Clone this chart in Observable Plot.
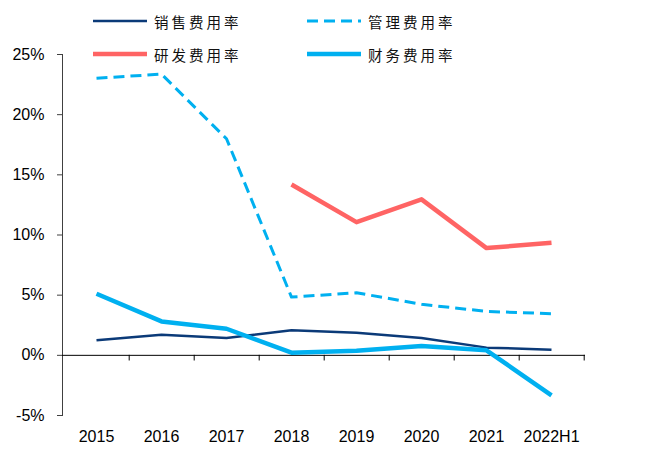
<!DOCTYPE html>
<html>
<head>
<meta charset="utf-8">
<script src="https://cdn.jsdelivr.net/npm/d3@7"></script>
<script src="https://cdn.jsdelivr.net/npm/@observablehq/plot@0.6"></script>
<style>
  body { margin: 0; background: #fff; }
  #wrap { position: relative; width: 655px; height: 451px; }
  #legend { position: absolute; left: 0; top: 0; width: 655px; height: 70px; pointer-events: none; }
  .lg { position: absolute; display: flex; align-items: center; font-family: "Noto Sans CJK SC", sans-serif; font-size: 14.5px; letter-spacing: 3px; color: #111; }
  .lg svg { margin-right: 7px; }
</style>
</head>
<body>
<div id="wrap"><div id="legend"></div></div>
<script>
const years = ["2015", "2016", "2017", "2018", "2019", "2020", "2021", "2022H1"];
const seriesNames = ["销售费用率", "管理费用率", "研发费用率", "财务费用率"];
const sales = [1.25, 1.72, 1.44, 2.08, 1.88, 1.44, 0.64, 0.47];
const admin = [23.03, 23.37, 18.0, 4.84, 5.2, 4.24, 3.65, 3.46];
const rnd = [null, null, null, 14.2, 11.07, 12.96, 8.91, 9.36];
const fin = [5.12, 2.82, 2.21, 0.22, 0.39, 0.77, 0.42, -3.32];
const yTicks = [-5, 0, 5, 10, 15, 20, 25];

const styles = {
  "销售费用率": {stroke: "#0b3a78", strokeWidth: 2.5, dash: null},
  "管理费用率": {stroke: "#00b0f0", strokeWidth: 3, dash: "11,6"},
  "研发费用率": {stroke: "#ff6464", strokeWidth: 4.5, dash: null},
  "财务费用率": {stroke: "#00b0f0", strokeWidth: 4.5, dash: null}
};
const valuesBy = {"销售费用率": sales, "管理费用率": admin, "研发费用率": rnd, "财务费用率": fin};
const rows = name => years.map((y, i) => ({year: y, v: valuesBy[name][i]})).filter(d => d.v != null);

const W = 655, H = 451, ML = 62, MR = 70, MT = 54, MB = 36;
const halfStep = (W - ML - MR) / years.length / 2;

const lineMark = name => Plot.line(rows(name), {
  x: "year", y: "v", stroke: styles[name].stroke, strokeWidth: styles[name].strokeWidth,
  strokeDasharray: styles[name].dash, strokeLinecap: "butt", strokeLinejoin: "round"
});

const chart = Plot.plot({
  width: W, height: H,
  marginLeft: ML, marginRight: MR, marginTop: MT, marginBottom: MB,
  style: {fontFamily: "'Liberation Sans', Arial, sans-serif", fontSize: "16px", color: "#000", background: "#fff"},
  x: {type: "point", domain: years, padding: 0.5, label: null},
  y: {domain: [-5, 25], label: null},
  marks: [
    Plot.frame({anchor: "left", stroke: "#404040"}),
    Plot.axisY({ticks: yTicks, tickFormat: d => d + "%", tickSize: 5, tickPadding: 13, fontSize: 16, stroke: "#404040", label: null}),
    Plot.axisX({tickSize: 0, tickPadding: 15, fontSize: 16, label: null}),
    Plot.ruleY([0], {stroke: "#000", strokeWidth: 1}),
    Plot.ruleX(years, {x: d => d, y1: 0, y2: -0.47, dx: halfStep, stroke: "#000"}),
    lineMark("研发费用率"),
    lineMark("管理费用率"),
    lineMark("销售费用率"),
    lineMark("财务费用率")
  ]
});
document.getElementById("wrap").prepend(chart);

const legendPos = [
  {name: "销售费用率", left: 93, top: 21},
  {name: "管理费用率", left: 307, top: 21},
  {name: "研发费用率", left: 93, top: 54},
  {name: "财务费用率", left: 307, top: 54}
];
const legend = document.getElementById("legend");
for (const p of legendPos) {
  const s = styles[p.name];
  const div = document.createElement("div");
  div.className = "lg";
  div.style.left = p.left + "px";
  div.style.top = (p.top - 10) + "px";
  div.style.height = "20px";
  const lw = s.strokeWidth;
  div.innerHTML = `<svg width="54" height="20"><line x1="0" x2="54" y1="10" y2="10" stroke="${s.stroke}" stroke-width="${lw}" ${s.dash ? `stroke-dasharray="${s.dash}"` : ""} stroke-linecap="butt"/></svg><span>${p.name}</span>`;
  legend.appendChild(div);
}
</script>
</body>
</html>
